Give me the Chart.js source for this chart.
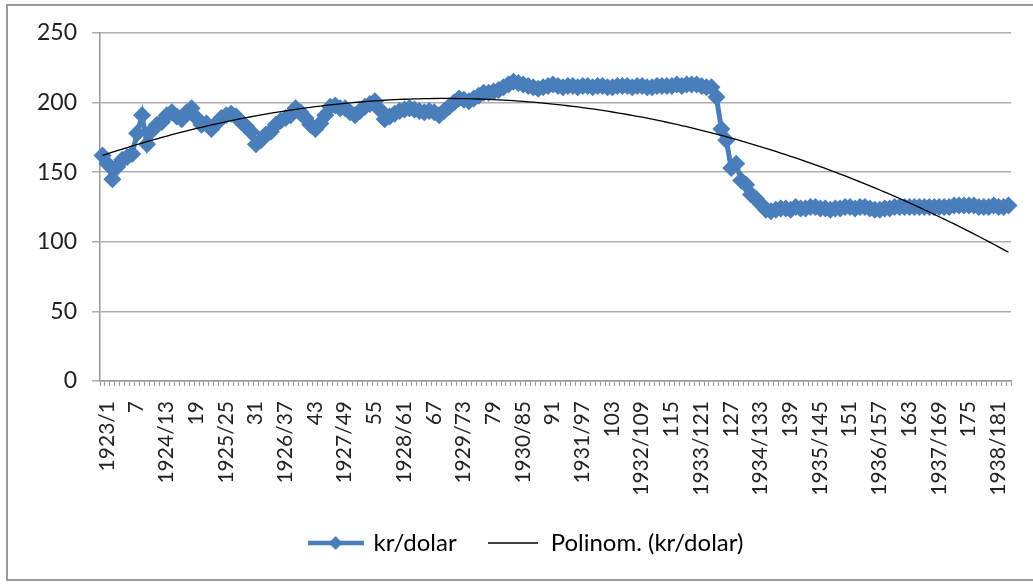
<!DOCTYPE html>
<html>
<head>
<meta charset="utf-8">
<script src="https://cdn.jsdelivr.net/npm/chart.js@4.4.0/dist/chart.umd.min.js"></script>
<style>
  html, body { margin: 0; padding: 0; background: #fff; overflow: hidden; }
  #wrap { position: relative; width: 1033px; height: 584px; }
  #frame { position: absolute; left: 6px; top: 4px; width: 1040px; height: 573px; border: 2px solid #999; pointer-events: none; }
  canvas { position: absolute; left: 0; top: 0; }
</style>
</head>
<body>
<div id="wrap">
  <canvas id="myChart" width="1033" height="584"></canvas>
  <div id="frame"></div>
</div>
<script>
// monthly kr/dolar values, 1923/1 .. 1938/184
const firstYear = 1923;
const krDolar = [
  162, 156, 145, 154, 159, 161, 163, 178, 191, 170,
  180, 184, 186, 191, 193, 190, 188, 193, 196, 189,
  184, 185, 181, 185, 189, 191, 192, 190, 186, 183,
  179, 170, 173, 177, 179, 184, 187, 189, 191, 196,
  193, 189, 184, 181, 185, 191, 197, 198, 196, 196,
  193, 191, 194, 197, 199, 201, 195, 188, 190, 192,
  194, 195, 196, 195, 194, 193, 194, 193, 191, 194,
  197, 200, 203, 202, 201, 203, 205, 207, 207, 208,
  209, 211, 213, 215, 214, 213, 212, 211, 210, 211,
  212, 213, 212, 211, 212, 212, 211, 212, 212, 211,
  212, 212, 211, 211, 212, 212, 212, 211, 212, 212,
  211, 211, 212, 212, 212, 212, 213, 212, 213, 213,
  213, 212, 211, 211, 204, 181, 173, 153, 156, 144,
  141, 134, 131, 127, 123, 122, 123, 124, 124, 123,
  125, 124, 124, 125, 125, 124, 124, 123, 124, 124,
  125, 125, 124, 125, 125, 124, 123, 123, 124, 124,
  125, 125, 125, 125, 125, 125, 125, 125, 125, 125,
  125, 125, 126, 126, 126, 126, 126, 125, 125, 125,
  126, 125, 125, 126
];
const yTicks = [0, 50, 100, 150, 200, 250];
const seriesNames = ['kr/dolar', 'Polinom. (kr/dolar)'];

// category labels: year shown on the first month of each year
const labels = krDolar.map((v, i) => (i % 12 === 0) ? (firstYear + i / 12) + '/' + (i + 1) : String(i + 1));

// 2nd order polynomial trend (least squares), like the spreadsheet trendline
function polyTrend(ys) {
  const s = [0, 0, 0, 0, 0], t = [0, 0, 0];
  ys.forEach((y, i) => {
    let p = 1;
    for (let k = 0; k < 5; k++) {
      s[k] += p;
      if (k < 3) t[k] += p * y;
      p *= (i + 1);
    }
  });
  const m = [[s[0], s[1], s[2], t[0]], [s[1], s[2], s[3], t[1]], [s[2], s[3], s[4], t[2]]];
  for (let c = 0; c < 3; c++) {
    for (let r = c + 1; r < 3; r++) {
      const f = m[r][c] / m[c][c];
      for (let k = c; k < 4; k++) m[r][k] -= f * m[c][k];
    }
  }
  const co = [0, 0, 0];
  for (let r = 2; r >= 0; r--) {
    let v = m[r][3];
    for (let k = r + 1; k < 3; k++) v -= m[r][k] * co[k];
    co[r] = v / m[r][r];
  }
  return ys.map((y, i) => co[0] + co[1] * (i + 1) + co[2] * (i + 1) * (i + 1));
}
const trend = polyTrend(krDolar);

function makeIcon(w, color, lw, diamond) {
  const c = document.createElement('canvas');
  c.width = w; c.height = 16;
  const g = c.getContext('2d');
  g.strokeStyle = color; g.lineWidth = lw;
  g.beginPath(); g.moveTo(0, 8); g.lineTo(w, 8); g.stroke();
  if (diamond) {
    g.fillStyle = color;
    g.beginPath();
    g.moveTo(w / 2, 1); g.lineTo(w / 2 + 7, 8); g.lineTo(w / 2, 15); g.lineTo(w / 2 - 7, 8);
    g.closePath(); g.fill();
  }
  return c;
}
const seriesIcon = makeIcon(56, '#4a7ebb', 4.5, true);
const trendIcon = makeIcon(50, '#000', 1.3, false);

const ctx = document.getElementById('myChart').getContext('2d');
const myChart = new Chart(ctx, {
  type: 'line',
  data: {
    labels: labels,
    datasets: [{
      label: seriesNames[0],
      data: krDolar,
      borderColor: '#4a7ebb',
      backgroundColor: '#4a7ebb',
      borderWidth: 5,
      pointStyle: 'rectRot',
      pointRadius: 9,
      pointBorderWidth: 0,
      order: 2
    }, {
      label: seriesNames[1],
      data: trend,
      borderColor: '#000',
      borderWidth: 1.3,
      pointRadius: 0,
      order: 1
    }]
  },
  options: {
    responsive: false,
    animation: false,
    devicePixelRatio: 1,
    layout: { autoPadding: false, padding: { left: 20, right: 0, top: 33, bottom: 19 } },
    plugins: {
      tooltip: { enabled: false },
      legend: {
        position: 'bottom',
        onClick: null,
        labels: {
          usePointStyle: true,
          pointStyleWidth: 52,
          padding: 30,
          color: '#222',
          font: { family: 'Lato', size: 24 },
          generateLabels: () => [
            { text: seriesNames[0], pointStyle: seriesIcon, fillStyle: '#4a7ebb', strokeStyle: '#4a7ebb', lineWidth: 0, datasetIndex: 0 },
            { text: seriesNames[1], pointStyle: trendIcon, fillStyle: '#000', strokeStyle: '#000', lineWidth: 0, datasetIndex: 1 }
          ]
        }
      }
    },
    scales: {
      x: {
        offset: true,
        grid: { display: true, drawOnChartArea: false, drawTicks: true, tickLength: 5, color: '#999', offset: true },
        border: { color: '#999', width: 1.5 },
        ticks: {
          autoSkip: false,
          maxRotation: 90,
          minRotation: 90,
          padding: 15,
          labelOffset: 4.5,
          color: '#222',
          font: { family: 'Lato', size: 21 },
          callback: function (v, i) { return i % 6 === 0 ? this.getLabelForValue(v) : ''; }
        },
        afterFit: (s) => { s.height = 120; s.paddingLeft = 0; s.paddingRight = 0; }
      },
      y: {
        min: yTicks[0],
        max: yTicks[yTicks.length - 1],
        afterBuildTicks: (s) => { s.ticks = yTicks.map(v => ({ value: v })); },
        grid: { color: '#adadad', lineWidth: 1.5, tickLength: 8 },
        border: { color: '#999', width: 1.5 },
        ticks: { padding: 15, color: '#222', font: { family: 'Lato', size: 23 } },
        afterFit: (s) => { s.width = 80; s.paddingTop = 0; s.paddingBottom = 0; }
      },
      y2: {
        position: 'right',
        grid: { display: false },
        border: { display: false },
        ticks: { display: false },
        afterFit: (s) => { s.width = 22; }
      }
    }
  }
});
</script>
</body>
</html>
